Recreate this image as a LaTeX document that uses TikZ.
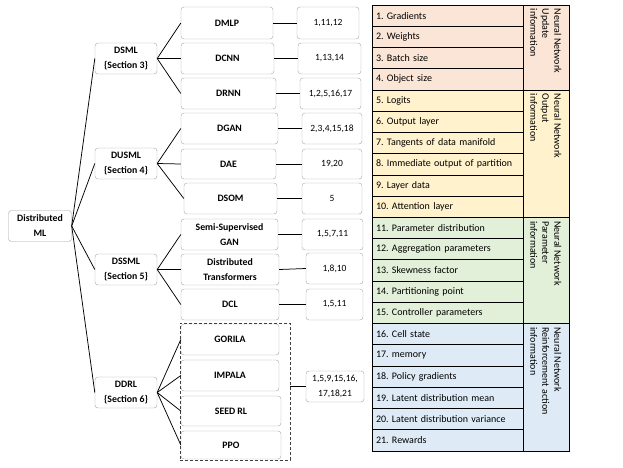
\documentclass[tikz,border=0pt]{standalone}
\usepackage{fontspec}
\setmainfont{Carlito}
\usepackage{tikz}
\frenchspacing
\definecolor{updfill}{HTML}{FBE5D6}
\definecolor{outfill}{HTML}{FFF2CC}
\definecolor{parfill}{HTML}{E2F0D9}
\definecolor{rlfill}{HTML}{DEEBF7}
\tikzset{
  mlbox/.style={draw=gray!70, rounded corners=3pt, fill=white, align=center, font=\bfseries\fontsize{9.8}{15}\selectfont, inner sep=1pt, minimum height=31pt},
  numbox/.style={draw=gray!70, rounded corners=3pt, fill=white, align=center, font=\fontsize{9.5}{15}\selectfont, inner sep=1pt, minimum height=31pt},
  link/.style={draw=black, line width=0.75pt},
  tabrow/.style={draw=black, line width=0.8pt, minimum width=151pt, minimum height=21.24pt, text width=143pt, inner xsep=4pt, inner ysep=0pt, align=left, font=\fontsize{10}{12}\selectfont},
  tabgrp/.style={draw=black, line width=0.8pt, minimum width=46pt, inner sep=0pt},
  grptext/.style={rotate=-90, anchor=north west, align=left, inner sep=0pt, font=\fontsize{10}{12}\selectfont}
}

\begin{document}
\begin{tikzpicture}[x=1pt, y=-1pt]
  \useasboundingbox (0,0) rectangle (623,467);
  \node[mlbox, minimum width=63pt] (dml) at (40,226) {Distributed\\ML};
  \node[mlbox, minimum width=62pt] (dsml) at (126,58.5) {DSML\\\{Section 3\}};
  \node[mlbox, minimum width=62pt] (dusml) at (126,163.5) {DUSML\\\{Section 4\}};
  \node[mlbox, minimum width=62pt] (dssml) at (126,269.5) {DSSML\\\{Section 5\}};
  \node[mlbox, minimum width=62pt] (ddrl) at (126,392.5) {DDRL\\\{Section 6\}};
  \node[mlbox, minimum width=92pt, minimum height=32pt] (dmlp) at (227,23) {DMLP};
  \node[mlbox, minimum width=93pt] (dcnn) at (227.5,58.5) {DCNN};
  \node[mlbox, minimum width=95pt] (drnn) at (228.5,93.5) {DRNN};
  \node[mlbox, minimum width=97pt] (dgan) at (229.5,128.5) {DGAN};
  \node[mlbox, minimum width=95pt, minimum height=30pt] (dae) at (228.5,164) {DAE};
  \node[mlbox, minimum width=93pt] (dsom) at (230.5,198.5) {DSOM};
  \node[mlbox, minimum width=97pt] (ssgan) at (229.5,234.5) {Semi-Supervised\\GAN};
  \node[mlbox, minimum width=98pt] (dtrans) at (230,269.5) {Distributed\\Transformers};
  \node[mlbox, minimum width=98pt] (dcl) at (230,304.5) {DCL};
  \node[mlbox, minimum width=98pt] (gorila) at (230,339.5) {GORILA};
  \node[mlbox, minimum width=98pt] (impala) at (230,375.5) {IMPALA};
  \node[mlbox, minimum width=100pt, minimum height=30pt] (seedrl) at (231,411) {SEED RL};
  \node[mlbox, minimum width=100pt, minimum height=28pt] (ppo) at (231,445) {PPO};
  \node[draw=black!75, densely dashed, line width=0.6pt, minimum width=110pt, minimum height=137pt, inner sep=0pt] (drlgrp) at (235,391.5) {};
  \node[numbox, minimum width=62pt, minimum height=32pt] (n1) at (328,23) {1,11,12};
  \node[numbox, minimum width=63pt] (n2) at (329.5,58.5) {1,13,14};
  \node[numbox, minimum width=61pt] (n3) at (330.5,93.5) {1,2,5,16,17};
  \node[numbox, minimum width=60pt] (n4) at (332,128.5) {2,3,4,15,18};
  \node[numbox, minimum width=60pt, minimum height=30pt] (n5) at (332,164) {19,20};
  \node[numbox, minimum width=60pt] (n6) at (332,198.5) {5};
  \node[numbox, minimum width=61pt] (n7) at (332.5,234.5) {1,5,7,11};
  \node[numbox, minimum width=57pt] (n8) at (334.5,268.5) {1,8,10};
  \node[numbox, minimum width=57pt] (n9) at (334.5,304.5) {1,5,11};
  \node[numbox, minimum width=58pt] (n10) at (335,386.5) {1,5,9,15,16,\\17,18,21};
  \draw[link] (dml.east) -- (dsml.west);
  \draw[link] (dml.east) -- (dusml.west);
  \draw[link] (dml.east) -- (dssml.west);
  \draw[link] (dml.east) -- (ddrl.west);
  \draw[link] (dsml.east) -- (dmlp.west);
  \draw[link] (dsml.east) -- (dcnn.west);
  \draw[link] (dsml.east) -- (drnn.west);
  \draw[link] (dusml.east) -- (dgan.west);
  \draw[link] (dusml.east) -- (dae.west);
  \draw[link] (dusml.east) -- (dsom.west);
  \draw[link] (dssml.east) -- (ssgan.west);
  \draw[link] (dssml.east) -- (dtrans.west);
  \draw[link] (dssml.east) -- (dcl.west);
  \draw[link] (ddrl.east) -- (gorila.west);
  \draw[link] (ddrl.east) -- (impala.west);
  \draw[link] (ddrl.east) -- (seedrl.west);
  \draw[link] (ddrl.east) -- (ppo.west);
  \draw[link] (dmlp.east) -- (n1.west);
  \draw[link] (dcnn.east) -- (n2.west);
  \draw[link] (drnn.east) -- (n3.west);
  \draw[link] (dgan.east) -- (n4.west);
  \draw[link] (dae.east) -- (n5.west);
  \draw[link] (dsom.east) -- (n6.west);
  \draw[link] (ssgan.east) -- (n7.west);
  \draw[link] (dtrans.east) -- (n8.west);
  \draw[link] (dcl.east) -- (n9.west);
  \draw[link] (drlgrp.east |- n10.west) -- (n10.west);
  \node[tabrow, fill=updfill] (r1) at (447.5,15.62) {1. Gradients};
  \node[tabrow, fill=updfill] (r2) at (447.5,36.86) {2. Weights};
  \node[tabrow, fill=updfill] (r3) at (447.5,58.10) {3. Batch size};
  \node[tabrow, fill=updfill] (r4) at (447.5,79.34) {4. Object size};
  \node[tabrow, fill=outfill] (r5) at (447.5,100.58) {5. Logits};
  \node[tabrow, fill=outfill] (r6) at (447.5,121.82) {6. Output layer};
  \node[tabrow, fill=outfill] (r7) at (447.5,143.06) {7. Tangents of data manifold};
  \node[tabrow, fill=outfill] (r8) at (447.5,164.30) {8. Immediate output of partition};
  \node[tabrow, fill=outfill] (r9) at (447.5,185.54) {9. Layer data};
  \node[tabrow, fill=outfill] (r10) at (447.5,206.78) {10. Attention layer};
  \node[tabrow, fill=parfill] (r11) at (447.5,228.02) {11. Parameter distribution};
  \node[tabrow, fill=parfill] (r12) at (447.5,249.26) {12. Aggregation parameters};
  \node[tabrow, fill=parfill] (r13) at (447.5,270.50) {13. Skewness factor};
  \node[tabrow, fill=parfill] (r14) at (447.5,291.74) {14. Partitioning point};
  \node[tabrow, fill=parfill] (r15) at (447.5,312.98) {15. Controller parameters};
  \node[tabrow, fill=rlfill] (r16) at (447.5,334.22) {16. Cell state};
  \node[tabrow, fill=rlfill] (r17) at (447.5,355.46) {17. memory};
  \node[tabrow, fill=rlfill] (r18) at (447.5,376.70) {18. Policy gradients};
  \node[tabrow, fill=rlfill] (r19) at (447.5,397.94) {19. Latent distribution mean};
  \node[tabrow, fill=rlfill] (r20) at (447.5,419.18) {20. Latent distribution variance};
  \node[tabrow, fill=rlfill] (r21) at (447.5,440.42) {21. Rewards};
  \node[tabgrp, fill=updfill, minimum height=84.96pt] (g1) at (546,47.48) {};
  \node[tabgrp, fill=outfill, minimum height=127.44pt] (g2) at (546,153.68) {};
  \node[tabgrp, fill=parfill, minimum height=106.2pt] (g3) at (546,270.5) {};
  \node[tabgrp, fill=rlfill, minimum height=127.44pt] (g4) at (546,387.32) {};
  \node[grptext] (t1) at ([xshift=-8pt,yshift=-4pt]g1.north east) {Neural Network\\Update\\information};
  \node[grptext] (t2) at ([xshift=-8pt,yshift=-4pt]g2.north east) {Neural Network\\Output\\information};
  \node[grptext] (t3) at ([xshift=-8pt,yshift=-4pt]g3.north east) {Neural Network\\Parameter\\information};
  \node[grptext] (t4) at ([xshift=-8pt,yshift=-4pt]g4.north east) {Neural Network\\Reinforcement action\\information};
\end{tikzpicture}
\end{document}
